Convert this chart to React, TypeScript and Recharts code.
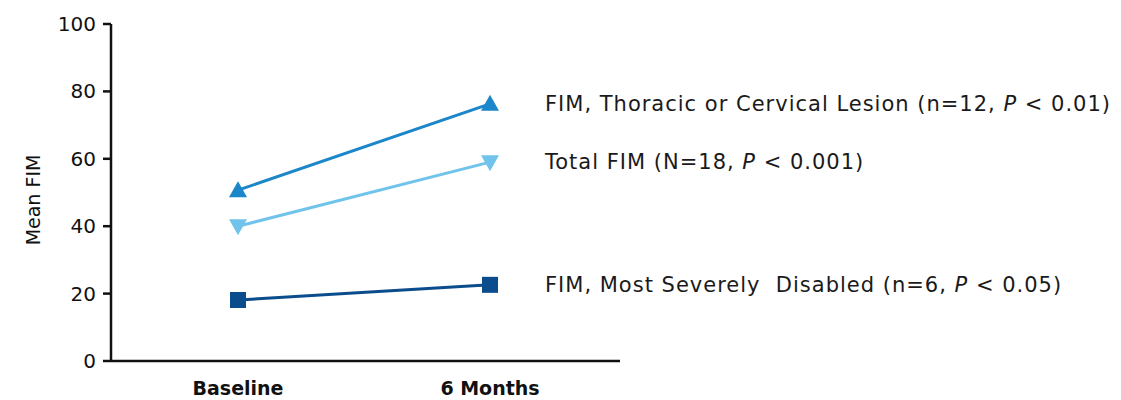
import React from 'react';
import { LineChart, Line, XAxis, YAxis, LabelList, Label } from 'recharts';

const timepoints = ['Baseline', '6 Months'];
const thoracicFim = [50.7, 76.3];
const totalFim = [40.0, 59.0];
const severeFim = [18.1, 22.6];
const yTicks = [0, 20, 40, 60, 80, 100];

const seriesLabels = {
  thoracic: ['FIM, Thoracic or Cervical Lesion (n=12, ', ' < 0.01)'],
  total: ['Total FIM (N=18, ', ' < 0.001)'],
  severe: ['FIM, Most Severely  Disabled (n=6, ', ' < 0.05)'],
};

const data = timepoints.map((t, i) => ({
  time: t,
  thoracic: thoracicFim[i],
  total: totalFim[i],
  severe: severeFim[i],
}));

const FONT = '"DejaVu Sans", sans-serif';

const TriUp = (props: any) => {
  const { cx, cy, fill } = props;
  if (cx == null || cy == null) return null;
  return <polygon points={`${cx},${cy - 9} ${cx + 9},${cy + 7} ${cx - 9},${cy + 7}`} fill={fill} />;
};

const TriDown = (props: any) => {
  const { cx, cy, fill } = props;
  if (cx == null || cy == null) return null;
  return <polygon points={`${cx - 9},${cy - 7} ${cx + 9},${cy - 7} ${cx},${cy + 9}`} fill={fill} />;
};

const Square = (props: any) => {
  const { cx, cy, fill } = props;
  if (cx == null || cy == null) return null;
  return <rect x={cx - 8} y={cy - 8} width={16} height={16} fill={fill} />;
};

// draws the series name to the right of the last point
const endLabel = (parts: string[]) => (props: any) => {
  const { x, y, index } = props;
  if (index !== timepoints.length - 1) return null;
  return (
    <text
      x={x + 55}
      y={y}
      dy={7}
      fontSize={21}
      letterSpacing={1}
      fontFamily={FONT}
      fill="#1a1a1a"
    >
      <tspan xmlSpace="preserve">{parts[0]}</tspan>
      <tspan fontStyle="italic">P</tspan>
      {parts[1]}
    </text>
  );
};

const XTick = (props: any) => {
  const { x, y, payload } = props;
  return (
    <text x={x} y={y + 26} textAnchor="middle" fontSize={19} fontWeight="bold" fontFamily={FONT} fill="#111">
      {payload.value}
    </text>
  );
};

const YTick = (props: any) => {
  const { x, y, payload } = props;
  return (
    <text x={x - 5} y={y} dy={7} textAnchor="end" fontSize={20} fontFamily={FONT} fill="#111">
      {payload.value}
    </text>
  );
};

export default function App() {
  return (
    <div style={{ position: 'absolute', left: 0, top: 0 }}>
      <LineChart
        width={1121}
        height={400}
        data={data}
        margin={{ top: 24, right: 501, bottom: 0, left: 0 }}
      >
        <XAxis
          dataKey="time"
          height={39}
          padding={{ left: 127, right: 130 }}
          tickLine={false}
          axisLine={{ stroke: '#111', strokeWidth: 2.5 }}
          tick={<XTick />}
        />
        <YAxis
          width={111}
          domain={[0, 100]}
          ticks={yTicks}
          tickSize={8}
          axisLine={{ stroke: '#111', strokeWidth: 2.5 }}
          tickLine={{ stroke: '#111', strokeWidth: 2.5 }}
          tick={<YTick />}
        >
          <Label
            content={() => (
              <text
                x={40}
                y={200}
                transform="rotate(-90 40 200)"
                textAnchor="middle"
                fontSize={19}
                fontFamily={FONT}
                fill="#111"
              >
                Mean FIM
              </text>
            )}
          />
        </YAxis>
        <Line
          dataKey="thoracic"
          stroke="#1b86c9"
          fill="#1b86c9"
          strokeWidth={3}
          dot={<TriUp />}
          isAnimationActive={false}
        >
          <LabelList content={endLabel(seriesLabels.thoracic)} />
        </Line>
        <Line
          dataKey="total"
          stroke="#70c3ea"
          fill="#70c3ea"
          strokeWidth={3}
          dot={<TriDown />}
          isAnimationActive={false}
        >
          <LabelList content={endLabel(seriesLabels.total)} />
        </Line>
        <Line
          dataKey="severe"
          stroke="#0b4c8c"
          fill="#0b4c8c"
          strokeWidth={3}
          dot={<Square />}
          isAnimationActive={false}
        >
          <LabelList content={endLabel(seriesLabels.severe)} />
        </Line>
      </LineChart>
    </div>
  );
}
